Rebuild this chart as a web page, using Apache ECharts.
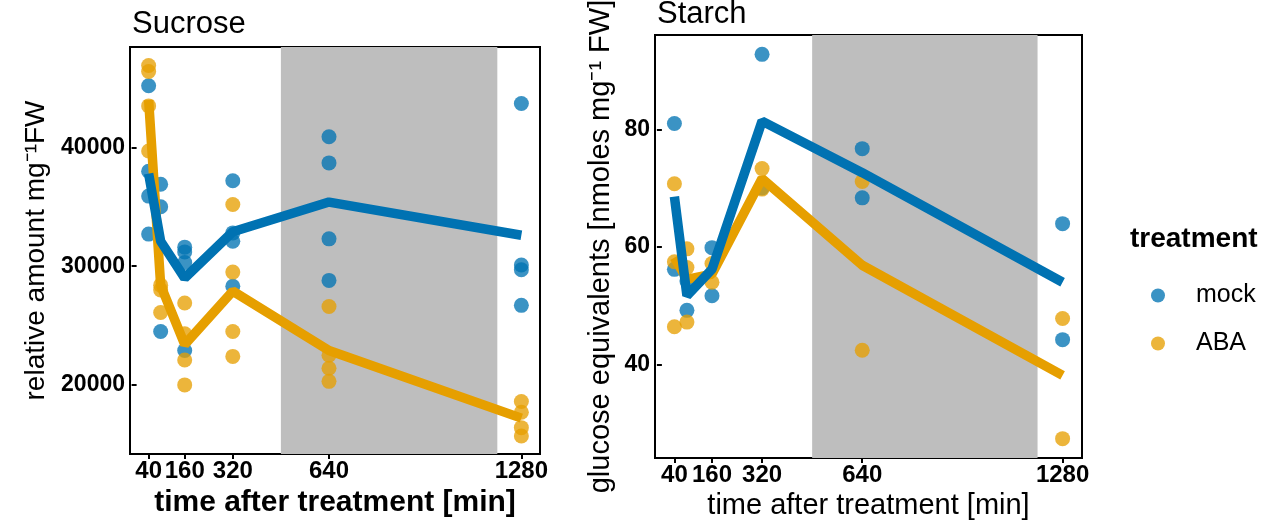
<!DOCTYPE html>
<html>
<head>
<meta charset="utf-8">
<script src="https://cdn.jsdelivr.net/npm/echarts@6/dist/echarts.min.js"></script>
<style>
  html, body { margin: 0; padding: 0; background: #fff; }
  #chart { width: 1279px; height: 522px; }
</style>
</head>
<body>
<div id="chart"></div>
<script>
// time points (min)
var times = [40, 80, 160, 320, 640, 1280];
var xTicks = [40, 160, 320, 640, 1280];
var nightBand = [480, 1200];

// Sucrose, replicate values per time point
var sucMock = [
  [45200, 38000, 35900, 32700],
  [36900, 35000, 24500],
  [31600, 31200, 30300, 22900],
  [37200, 32800, 32100, 28300],
  [40900, 38700, 32300, 28800],
  [43700, 30100, 29700, 26700]
];
var sucAba = [
  [46900, 46400, 43500, 39700],
  [28400, 28000, 26100],
  [26900, 24300, 22100, 20000],
  [35200, 29500, 24500, 22400],
  [26600, 22500, 21400, 20300],
  [18600, 17700, 16400, 15700]
];
var sucMockMean = [37800, 32100, 29000, 32900, 35400, 32600];
var sucAbaMean = [44000, 28400, 23400, 27900, 22900, 17200];
var sucTicks = [20000, 30000, 40000];

// Starch
var staMock = [
  [81.1, 56.2],
  [54.2, 49.2],
  [59.9, 51.7],
  [92.9, 70.1],
  [76.8, 68.4],
  [64.0, 44.2]
];
var staAba = [
  [70.8, 57.5, 46.4],
  [59.7, 56.5, 47.2],
  [57.2, 54.0],
  [73.4, 69.9],
  [71.2, 42.4],
  [47.8, 27.3]
];
var staMockMean = [68.6, 51.7, 56.2, 81.5, 72.7, 54.0];
var staAbaMean = [58.2, 54.5, 55.4, 71.7, 56.9, 38.1];
var staTicks = [40, 60, 80];

var blue = '#0072B2';
var orange = '#E69F00';
var font = 'Liberation Sans, Arial, sans-serif';

function pts(groups) {
  var out = [];
  groups.forEach(function (g, i) {
    g.forEach(function (v) { out.push([times[i], v]); });
  });
  return out;
}
function pairs(vals) {
  return vals.map(function (v, i) { return [times[i], v]; });
}
function plain(v) { return String(v); }

var chart = echarts.init(document.getElementById('chart'), null, { renderer: 'canvas' });

function xAxisOpt(idx, boldName, nameSize) {
  return {
    type: 'value', gridIndex: idx, min: -22, max: 1342,
    name: 'time after treatment [min]', nameLocation: 'middle', nameGap: 28,
    nameTextStyle: { fontFamily: font, fontSize: nameSize, color: '#000', fontWeight: boldName ? 'bold' : 'normal' },
    axisLine: { show: false },
    splitLine: { show: false },
    axisTick: { show: true, customValues: xTicks, length: 5, lineStyle: { color: '#000', width: 2 } },
    axisLabel: { customValues: xTicks, formatter: plain, fontFamily: font, fontSize: 24, fontWeight: 'bold', color: '#000', margin: 5 }
  };
}
function yAxisOpt(idx, min, max, ticks, name, gap, nameSize) {
  return {
    type: 'value', gridIndex: idx, min: min, max: max,
    name: name, nameLocation: 'middle', nameGap: gap,
    nameTextStyle: { fontFamily: font, fontSize: nameSize, color: '#000' },
    axisLine: { show: false },
    splitLine: { show: false },
    axisTick: { show: true, customValues: ticks, length: 5, lineStyle: { color: '#000', width: 2 } },
    axisLabel: { customValues: ticks, formatter: plain, fontFamily: font, fontSize: 23, fontWeight: 'bold', color: '#000', margin: 5 }
  };
}

function band(idx) {
  return {
    type: 'line', xAxisIndex: idx, yAxisIndex: idx, data: [], z: 1, silent: true,
    markArea: {
      silent: true,
      itemStyle: { color: '#bebebe', opacity: 1 },
      data: [[{ xAxis: nightBand[0] }, { xAxis: nightBand[1] }]]
    }
  };
}
function scatter(idx, name, color, data) {
  return {
    type: 'scatter', name: name, xAxisIndex: idx, yAxisIndex: idx, z: 3,
    symbolSize: 15, itemStyle: { color: color, opacity: 0.77 }, data: data
  };
}
function line(idx, name, color, data, z) {
  return {
    type: 'line', name: name, xAxisIndex: idx, yAxisIndex: idx, z: z,
    symbol: 'none', lineStyle: { color: color, width: 9.5 }, itemStyle: { color: color }, data: data
  };
}

var option = {
  backgroundColor: '#fff',
  animation: false,
  title: [
    { text: 'Sucrose', left: 127, top: 4, textStyle: { fontFamily: font, fontSize: 31, fontWeight: 'normal', color: '#000' } },
    { text: 'Starch', left: 652, top: -6, textStyle: { fontFamily: font, fontSize: 31, fontWeight: 'normal', color: '#000' } },
    { text: 'treatment', left: 1125, top: 220, textStyle: { fontFamily: font, fontSize: 28, fontWeight: 'bold', color: '#000' } }
  ],
  legend: {
    data: ['mock', 'ABA'],
    orient: 'vertical', left: 1146, top: 278,
    icon: 'circle', itemWidth: 14, itemHeight: 14, itemGap: 23,
    textStyle: { fontFamily: font, fontSize: 25, color: '#000', padding: [0, 0, 0, 26] }
  },
  grid: [
    { left: 130, top: 47, width: 410, height: 407, outerBoundsMode: 'none', show: true, borderColor: '#000', borderWidth: 2, backgroundColor: 'transparent' },
    { left: 655, top: 35, width: 427, height: 423, outerBoundsMode: 'none', show: true, borderColor: '#000', borderWidth: 2, backgroundColor: 'transparent' }
  ],
  xAxis: [xAxisOpt(0, true, 30), xAxisOpt(1, false, 29)],
  yAxis: [
    yAxisOpt(0, 14180, 48460, sucTicks, 'relative amount mg\u207B\u00B9FW', 80, 28),
    yAxisOpt(1, 24.0, 96.2, staTicks, 'glucose equivalents [nmoles mg\u207B\u00B9 FW]', 40, 29)
  ],
  series: [
    band(0), band(1),
    scatter(0, 'mock', blue, pts(sucMock)),
    scatter(0, 'ABA', orange, pts(sucAba)),
    line(0, 'ABA', orange, pairs(sucAbaMean), 4),
    line(0, 'mock', blue, pairs(sucMockMean), 5),
    scatter(1, 'mock', blue, pts(staMock)),
    scatter(1, 'ABA', orange, pts(staAba)),
    line(1, 'ABA', orange, pairs(staAbaMean), 4),
    line(1, 'mock', blue, pairs(staMockMean), 5)
  ]
};

chart.setOption(option);
window.addEventListener('resize', chart.resize);
</script>
</body>
</html>
